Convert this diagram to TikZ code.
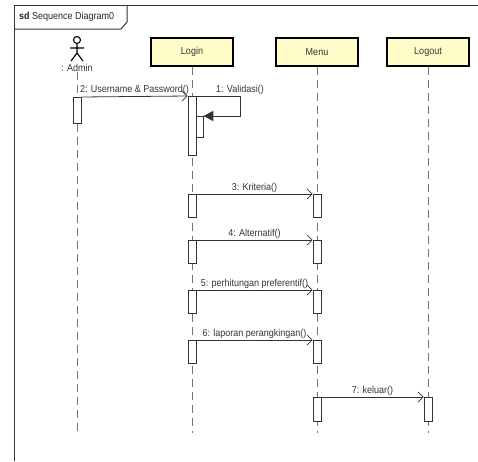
\documentclass[tikz,border=0pt]{standalone}
\usepackage{fontspec}
\setmainfont[FakeStretch=0.9]{Liberation Sans}
\usetikzlibrary{arrows.meta,positioning}
\begin{document}
\begin{tikzpicture}[x=1pt,y=-1pt,
  obj/.style={draw,line width=1.3pt,fill=yellow!22,minimum width=82pt,minimum height=28pt,inner sep=0pt,font=\fontsize{10}{11}\selectfont,text=black!80},
  act/.style={draw=black!80,line width=0.7pt,fill=white,minimum width=8pt,inner sep=0pt,anchor=north},
  lifeline/.style={draw=black!55,line width=0.7pt,dash pattern=on 8pt off 5pt},
  msg/.style={draw=black!80,line width=0.8pt,-{Straight Barb[length=5pt,width=10pt]}},
  lbl/.style={above,inner sep=1.5pt,font=\fontsize{10}{11}\selectfont,text=black!80}]
  \useasboundingbox (0,0) rectangle (478,461);
  \draw[black!80,line width=1pt] (478,5) -- (14,5) -- (14,461);
  \draw[black!80,line width=1pt] (14,29) -- (121,29) -- (127,22) -- (127,5);
  \node[anchor=west,inner sep=0pt,font=\fontsize{10}{11}\selectfont,text=black!85] (frameTitle) at (19,17) {\textbf{sd} Sequence Diagram0};
  \node[obj] (login) at (192,52) {Login};
  \node[obj] (menu) at (317,52) {Menu};
  \node[obj] (logout) at (428,52) {Logout};
  \draw[black,line width=1.1pt] (77,40) circle (3.5);
  \draw[black,line width=1.1pt] (77,43.5) -- (77,53) (70,48) -- (84,48) (71,61) -- (77,53) -- (83,61);
  \node[lbl,below,inner sep=0pt] (admin) at (77,64) {: Admin};
  \coordinate (adminEnd) at (77,433);
  \coordinate (loginEnd) at (192,433);
  \coordinate (menuEnd) at (317,433);
  \coordinate (logoutEnd) at (428,433);
  \draw[lifeline] (admin.south) -- (adminEnd);
  \draw[lifeline] (login.south) -- (loginEnd);
  \draw[lifeline] (menu.south) -- (menuEnd);
  \draw[lifeline] (logout.south) -- (logoutEnd);
  \node[act,minimum height=26pt] (aAdmin) at (77,97) {};
  \node[act,minimum height=59pt] (aLogin) at (192,96) {};
  \node[act,minimum width=7pt,minimum height=21pt] (aSelf) at (199.5,116) {};
  \draw[msg] (aAdmin.north east) -- (aLogin.north west) node[lbl,midway] {2: Username \& Password()};
  \coordinate (selfTurn) at (240,96);
  \draw[draw=black!80,line width=0.8pt,-{Triangle[length=10pt,width=10pt]}] (aLogin.north east) -- (selfTurn) |- (aSelf.north east);
  \node[lbl] (selfLbl) at (selfTurn) {1: Validasi()};
  \foreach \y/\i/\txt in {194/3/Kriteria(),240/4/Alternatif(),290/5/perhitungan preferentif(),340/6/laporan perangkingan()}{
    \node[act,minimum height=23pt] (sL\i) at (192,\y) {};
    \node[act,minimum height=23pt] (sM\i) at (317,\y) {};
    \draw[msg] (sL\i.north east) -- (sM\i.north west) node[lbl,midway] {\i: \txt};
  }
  \node[act,minimum height=24pt] (kMenu) at (317,397) {};
  \node[act,minimum height=24pt] (kLogout) at (428,397) {};
  \draw[msg] (kMenu.north east) -- (kLogout.north west) node[lbl,midway] {7: keluar()};
\end{tikzpicture}
\end{document}
